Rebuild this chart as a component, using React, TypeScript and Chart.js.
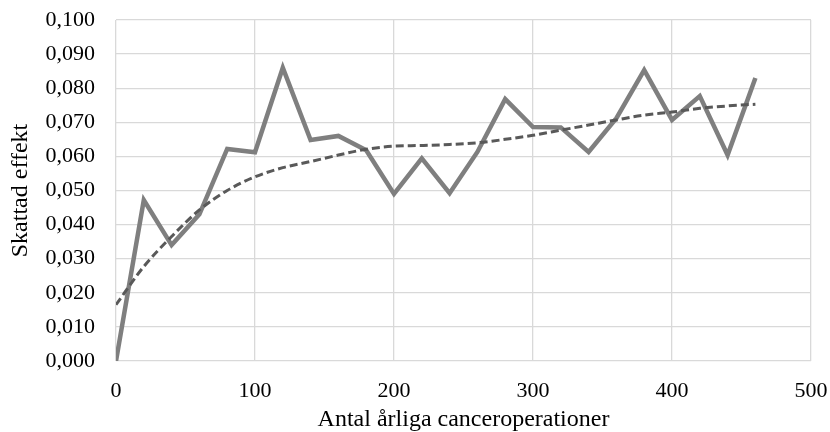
import React, { useEffect, useRef } from "react";
import { Chart, registerables } from "chart.js";

Chart.register(...registerables);

const xValues = [0, 20, 40, 60, 80, 100, 120, 140, 160, 180, 200, 220, 240, 260, 280, 300, 320, 340, 360, 380, 400, 420, 440, 460];
const effectValues = [0.0, 0.0472, 0.034, 0.043, 0.0622, 0.0612, 0.086, 0.0648, 0.066, 0.0618, 0.049, 0.0594, 0.0492, 0.0613, 0.0768, 0.0686, 0.0685, 0.0613, 0.0712, 0.0853, 0.0707, 0.0777, 0.0604, 0.083];
const trendValues = [0.0165, 0.0277, 0.0365, 0.0443, 0.05, 0.054, 0.0567, 0.0585, 0.0604, 0.0621, 0.063, 0.0632, 0.0635, 0.064, 0.065, 0.0662, 0.0677, 0.0692, 0.0707, 0.0721, 0.073, 0.0741, 0.0748, 0.0753];
const xTitle = "Antal årliga canceroperationer";
const yTitle = "Skattad effekt";

export default function App() {
  const ref = useRef<HTMLCanvasElement | null>(null);
  useEffect(() => {
    document.body.style.margin = "0";
    const ctx = ref.current!;
    const font = "'Liberation Serif', 'Times New Roman', serif";
    const chart = new Chart(ctx, {
      type: "line",
      data: {
        datasets: [
          {
            label: "Skattad effekt",
            data: xValues.map((x, i) => ({ x, y: effectValues[i] })),
            borderColor: "#7f7f7f",
            borderWidth: 4.5,
            pointRadius: 0,
            tension: 0,
            borderJoinStyle: "miter",
            order: 2,
          },
          {
            label: "Trend",
            data: xValues.map((x, i) => ({ x, y: trendValues[i] })),
            borderColor: "#595959",
            borderWidth: 3,
            borderDash: [8, 4],
            pointRadius: 0,
            tension: 0.4,
            cubicInterpolationMode: "monotone",
            order: 1,
          },
        ],
      },
      options: {
        animation: false,
        responsive: false,
        layout: { padding: { top: 20, right: 19, left: 0, bottom: 0 } },
        plugins: { legend: { display: false }, tooltip: { enabled: false } },
        scales: {
          x: {
            type: "linear",
            min: 0,
            max: 500,
            ticks: {
              stepSize: 100,
              color: "#000",
              font: { family: font, size: 22 },
              padding: 17,
              maxRotation: 0,
            },
            grid: { color: "#d9d9d9", lineWidth: 1.3, drawTicks: false },
            border: { display: false },
            title: {
              display: true,
              text: xTitle,
              color: "#000",
              font: { family: font, size: 24 },
              padding: { top: 0, bottom: -2 },
            },
            afterFit: (s: any) => {
              s.height = 71;
              s.paddingLeft = 0;
              s.paddingRight = 0;
            },
          },
          y: {
            min: 0,
            max: 0.1,
            ticks: {
              stepSize: 0.01,
              color: "#000",
              font: { family: font, size: 22 },
              padding: 21,
              callback: (v: any) => Number(v).toFixed(3).replace(".", ","),
            },
            grid: { color: "#d9d9d9", lineWidth: 1.3, drawTicks: false },
            border: { display: false },
            title: {
              display: true,
              text: yTitle,
              color: "#000",
              font: { family: font, size: 24 },
              padding: { top: 6, bottom: 0 },
            },
            afterFit: (s: any) => {
              s.width = 116;
              s.paddingTop = 0;
              s.paddingBottom = 0;
            },
          },
        },
      },
    });
    return () => chart.destroy();
  }, []);
  return (
    <div style={{ position: "fixed", left: 0, top: 0, width: 830, height: 432, background: "#fff" }}>
      <canvas ref={ref} width={830} height={432} style={{ width: 830, height: 432 }} />
    </div>
  );
}
